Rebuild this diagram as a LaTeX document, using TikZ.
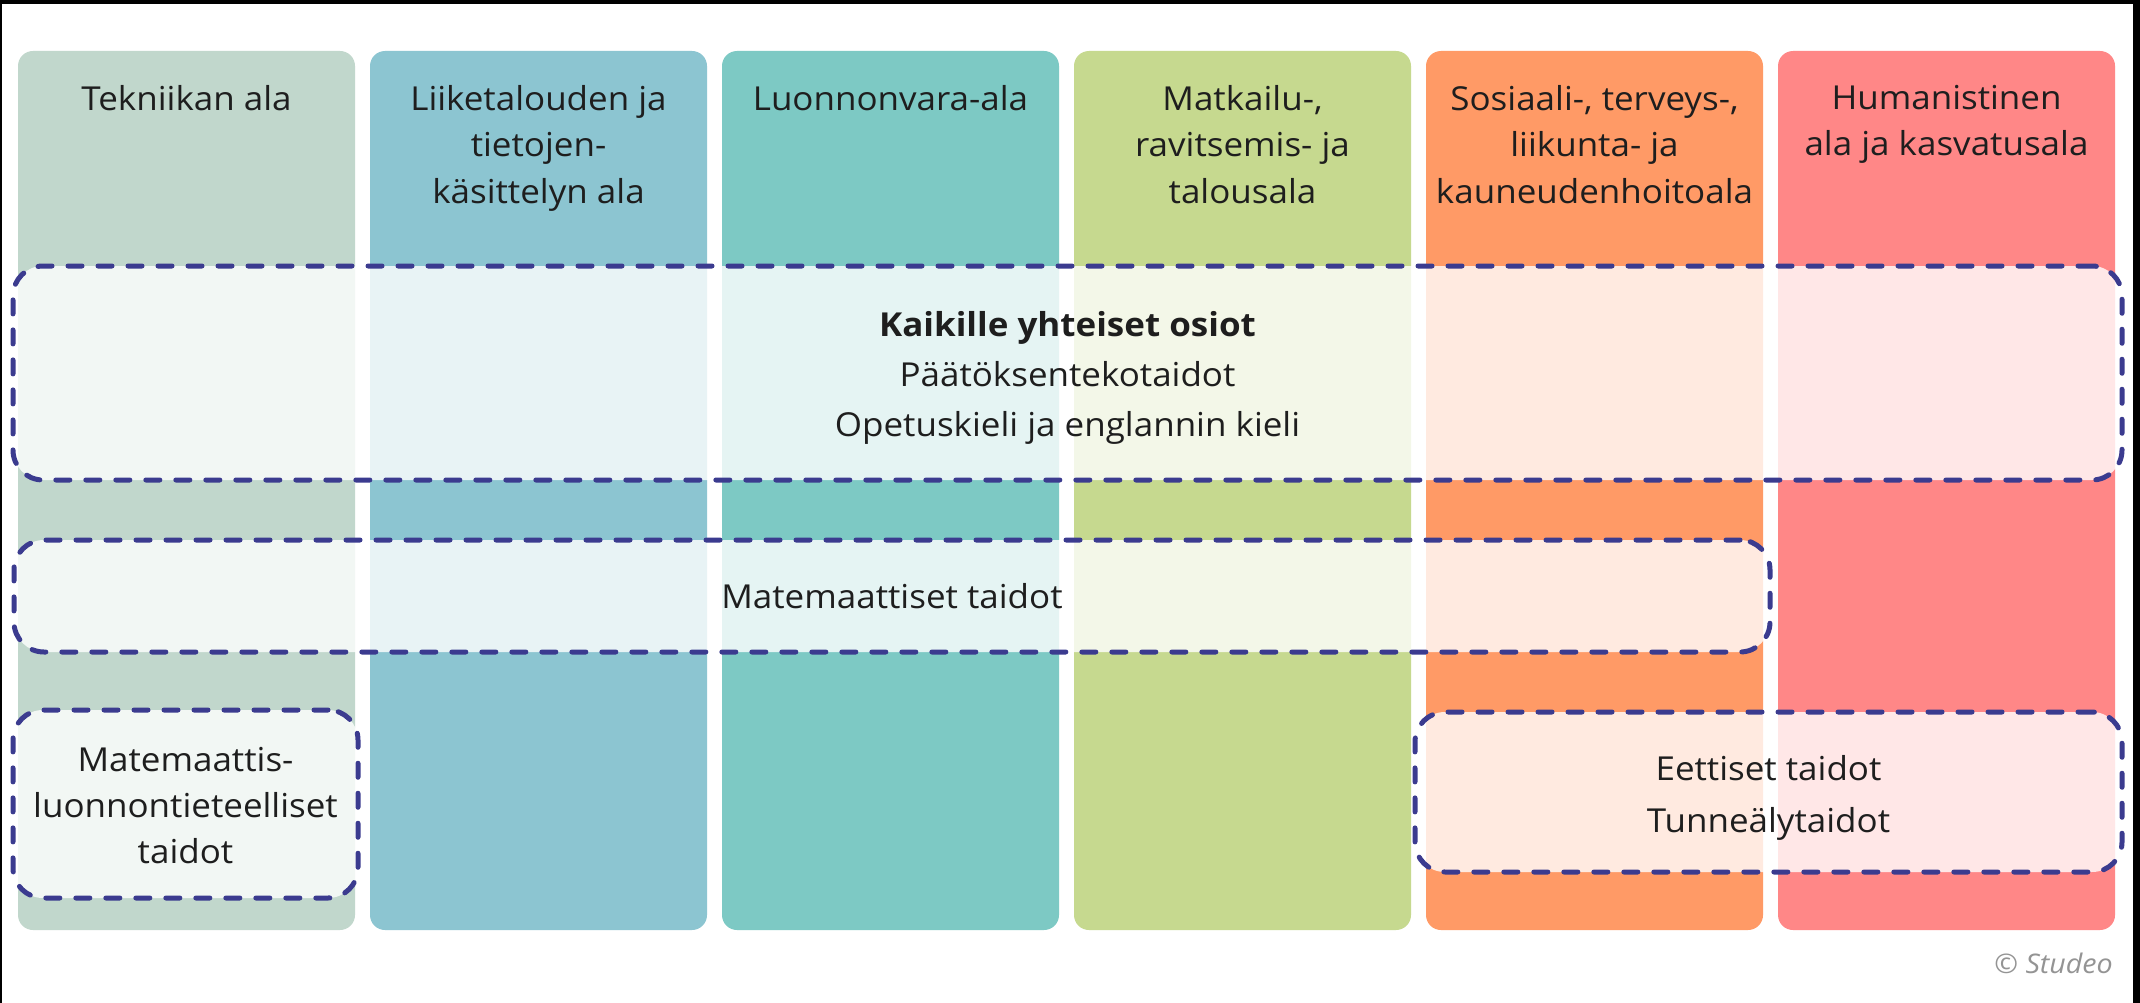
\documentclass[tikz,border=0pt]{standalone}
\usepackage{fontspec}
\setmainfont{Open Sans}[FakeStretch=1.06]
\definecolor{cA}{HTML}{C1D7CC}
\definecolor{cB}{HTML}{8CC5D1}
\definecolor{cC}{HTML}{7DC9C4}
\definecolor{cD}{HTML}{C6D98F}
\definecolor{cE}{HTML}{FF9A66}
\definecolor{cF}{HTML}{FF8787}
\definecolor{dashc}{HTML}{3B3B8F}
\definecolor{txt}{HTML}{1E1E1E}
\begin{document}
\begin{tikzpicture}[x=1pt,y=-1pt,
  colbox/.style={rounded corners=15pt, minimum width=337pt, minimum height=879pt, inner sep=0pt, draw=none},
  header/.style={anchor=north, inner sep=0pt, align=center, text=txt, font=\fontsize{33}{46.5}\selectfont},
  groupbox/.style={draw=dashc, line width=5pt, dash pattern=on 14pt off 16pt, line cap=round, rounded corners=30pt, fill=white, fill opacity=0.8, text opacity=1, inner sep=0pt},
  grouptext/.style={align=center, text=txt, inner sep=0pt}
]
\useasboundingbox (0,0) rectangle (2140,1003);
\fill[black] (0,0) rectangle (2140,1003);
\fill[white] (2,4) rectangle (2133,1003);
% columns
\node[colbox, fill=cA] (k1) at (186.5,490.5) {};
\node[colbox, fill=cB] (k2) at (538.5,490.5) {};
\node[colbox, fill=cC] (k3) at (890.5,490.5) {};
\node[colbox, fill=cD] (k4) at (1242.5,490.5) {};
\node[colbox, fill=cE] (k5) at (1594.5,490.5) {};
\node[colbox, fill=cF] (k6) at (1946.5,490.5) {};
% headers
\node[header] (h1) at (186.5,85) {Tekniikan ala};
\node[header] (h2) at (538.5,85) {Liiketalouden ja\\tietojen-\\käsittelyn ala};
\node[header] (h3) at (890.5,85) {Luonnonvara-ala};
\node[header] (h4) at (1242.5,85) {Matkailu-,\\ravitsemis- ja\\talousala};
\node[header] (h5) at (1594.5,85) {Sosiaali-, terveys-,\\liikunta- ja\\kauneudenhoitoala};
\node[header] (h6) at (1946.5,85) {Humanistinen\\ala ja kasvatusala};
% dashed group boxes
\node[groupbox, minimum width=2109pt, minimum height=214pt] (g1) at (1067.5,373) {};
\node[grouptext, font=\fontsize{33}{50}\selectfont] (t1) at ([yshift=-5pt]g1.center) {\textbf{Kaikille yhteiset osiot}\\Päätöksentekotaidot\\Opetuskieli ja englannin kieli};
\node[groupbox, minimum width=1756pt, minimum height=112pt] (g2) at (892,596) {};
\node[grouptext, font=\fontsize{33}{46}\selectfont] (t2) at (g2.center) {Matemaattiset taidot};
\node[groupbox, minimum width=345pt, minimum height=188pt] (g3) at (185.5,804) {};
\node[grouptext, font=\fontsize{33}{46}\selectfont] (t3) at ([yshift=-2pt]g3.center) {Matemaattis-\\luonnontieteelliset\\taidot};
\node[groupbox, minimum width=707pt, minimum height=160pt] (g4) at (1768.5,792) {};
\node[grouptext, font=\fontsize{33}{52}\selectfont] (t4) at ([yshift=-6pt]g4.center) {Eettiset taidot\\Tunneälytaidot};
% credit
\node[anchor=base east, inner sep=0pt, text=black!42, font=\fontsize{27}{32}\selectfont\itshape] (cr) at (2113,973) {© Studeo};
\end{tikzpicture}
\end{document}
